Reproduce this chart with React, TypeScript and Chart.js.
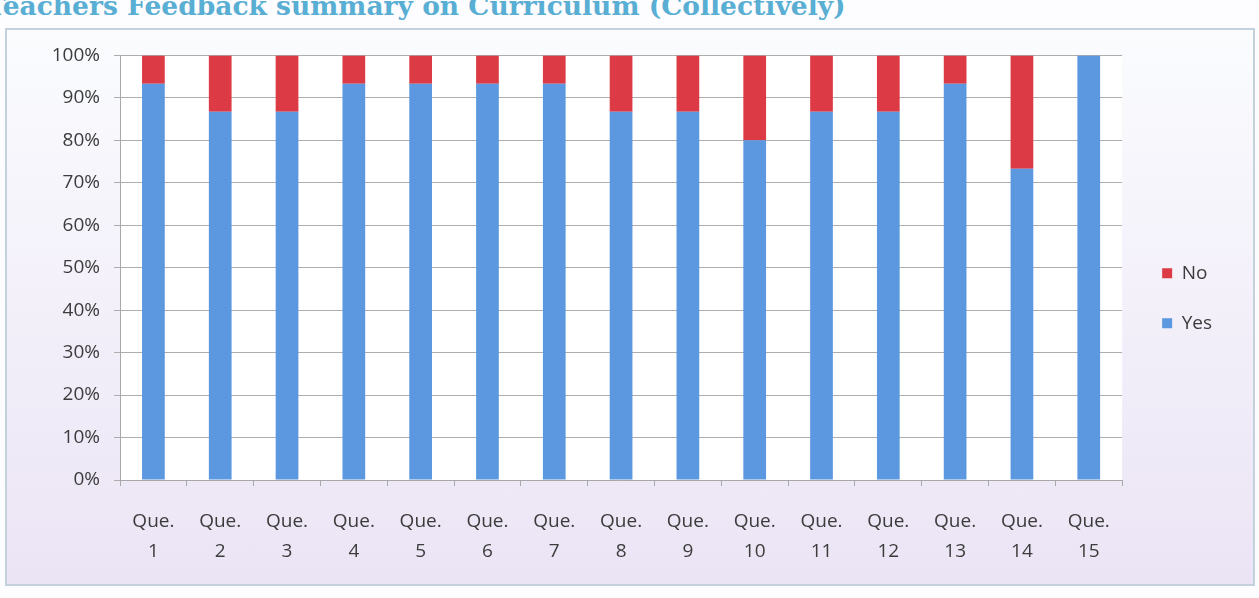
import React, { useEffect, useRef } from "react";
import { Chart, registerables } from "chart.js";

Chart.register(...registerables);

const titleText = "Teachers Feedback summary on Curriculum (Collectively)";
const categories: string[][] = [
  ["Que.", "1"], ["Que.", "2"], ["Que.", "3"], ["Que.", "4"], ["Que.", "5"],
  ["Que.", "6"], ["Que.", "7"], ["Que.", "8"], ["Que.", "9"], ["Que.", "10"],
  ["Que.", "11"], ["Que.", "12"], ["Que.", "13"], ["Que.", "14"], ["Que.", "15"],
];
const yesValues = [93.3, 86.7, 86.7, 93.3, 93.3, 93.3, 93.3, 86.7, 86.7, 80.0, 86.7, 86.7, 93.3, 73.3, 100];
const noValues = [6.7, 13.3, 13.3, 6.7, 6.7, 6.7, 6.7, 13.3, 13.3, 20.0, 13.3, 13.3, 6.7, 26.7, 0];
const seriesNames = ["Yes", "No"];

const CANVAS_W = 1246;
const CANVAS_H = 554;
const FONT_FAMILY = "'Open Sans', sans-serif";

const plotBg = {
  id: "plotBg",
  beforeDraw(chart: any) {
    const { ctx, chartArea } = chart;
    if (!chartArea) return;
    ctx.save();
    ctx.fillStyle = "#ffffff";
    ctx.fillRect(chartArea.left, chartArea.top, chartArea.right - chartArea.left, chartArea.bottom - chartArea.top);
    ctx.restore();
  },
};

const legendShift = {
  id: "legendShift",
  afterLayout(chart: any) {
    if (chart.legend) {
      chart.legend.left += 9;
      chart.legend.right += 9;
    }
  },
};

export default function App() {
  const ref = useRef<HTMLCanvasElement | null>(null);

  useEffect(() => {
    let chart: Chart | null = null;
    let cancelled = false;
    const build = () => {
      if (cancelled || !ref.current) return;
      const font = { family: FONT_FAMILY, size: 19 };
      chart = new Chart(ref.current, {
        type: "bar",
        data: {
          labels: categories,
          datasets: [
            {
              label: seriesNames[0],
              data: yesValues,
              backgroundColor: "#5b98df",
              borderWidth: 0,
              categoryPercentage: 1,
              barPercentage: 0.34,
            },
            {
              label: seriesNames[1],
              data: noValues,
              backgroundColor: "#dc3b45",
              borderWidth: 0,
              categoryPercentage: 1,
              barPercentage: 0.34,
            },
          ],
        },
        options: {
          animation: false,
          responsive: false,
          devicePixelRatio: 1,
          layout: { padding: { top: 23, left: 0, bottom: 0, right: 40 } },
          plugins: {
            legend: {
              position: "right",
              fullSize: false,
              reverse: true,
              align: "center",
              title: { display: true, text: "", font: { size: 10 }, padding: { top: 49, bottom: 0 } },
              labels: {
                boxWidth: 10,
                boxHeight: 10,
                padding: 31,
                color: "#3c3c3c",
                font,
              },
            },
            tooltip: { enabled: false },
          },
          scales: {
            x: {
              stacked: true,
              grid: {
                display: true,
                drawOnChartArea: false,
                drawTicks: true,
                tickLength: 6,
                color: "#a8a8a8",
                offset: true,
              },
              border: { display: true, color: "#a8a8a8", width: 1 },
              ticks: {
                color: "#3c3c3c",
                font: { ...font, lineHeight: 1.58 },
                padding: 21,
                maxRotation: 0,
                autoSkip: false,
              },
              afterFit: (s: any) => {
                s.height = CANVAS_H - 450;
              },
            },
            y: {
              stacked: true,
              min: 0,
              max: 100,
              grid: {
                color: "#adadad",
                lineWidth: 1,
                drawTicks: true,
                tickLength: 6,
              },
              border: { display: true, color: "#a8a8a8", width: 1 },
              ticks: {
                stepSize: 10,
                color: "#3c3c3c",
                font,
                padding: 14,
                callback: (v: any) => `${v}%`,
              },
              afterFit: (s: any) => {
                s.width = 113;
              },
            },
          },
        },
        plugins: [plotBg, legendShift],
      });
    };
    const fonts: any = (document as any).fonts;
    if (fonts && fonts.load) {
      Promise.all([fonts.load('19px "Open Sans"'), fonts.load('bold 26px "DejaVu Serif"')])
        .catch(() => null)
        .then(build);
    } else {
      build();
    }
    return () => {
      cancelled = true;
      if (chart) chart.destroy();
    };
  }, []);

  return (
    <div style={{ position: "fixed", left: 0, top: 0, width: 1259, height: 598, background: "#fdfcfe", overflow: "hidden" }}>
      <div
        style={{
          position: "absolute",
          left: -14,
          top: -8,
          whiteSpace: "nowrap",
          fontFamily: "'DejaVu Serif', serif",
          fontWeight: "bold",
          fontSize: 26.5,
          lineHeight: "28px",
          color: "#58aed3",
        }}
      >
        {titleText}
      </div>
      <div
        style={{
          position: "absolute",
          left: 5,
          top: 28,
          width: 1250,
          height: 558,
          boxSizing: "border-box",
          border: "2px solid #c3d1dd",
          background: "linear-gradient(180deg, #fafcfe 0%, #f4f1fa 45%, #ebe4f5 100%)",
        }}
      >
        <canvas ref={ref} width={CANVAS_W} height={CANVAS_H} style={{ display: "block", width: CANVAS_W, height: CANVAS_H }} />
      </div>
    </div>
  );
}
